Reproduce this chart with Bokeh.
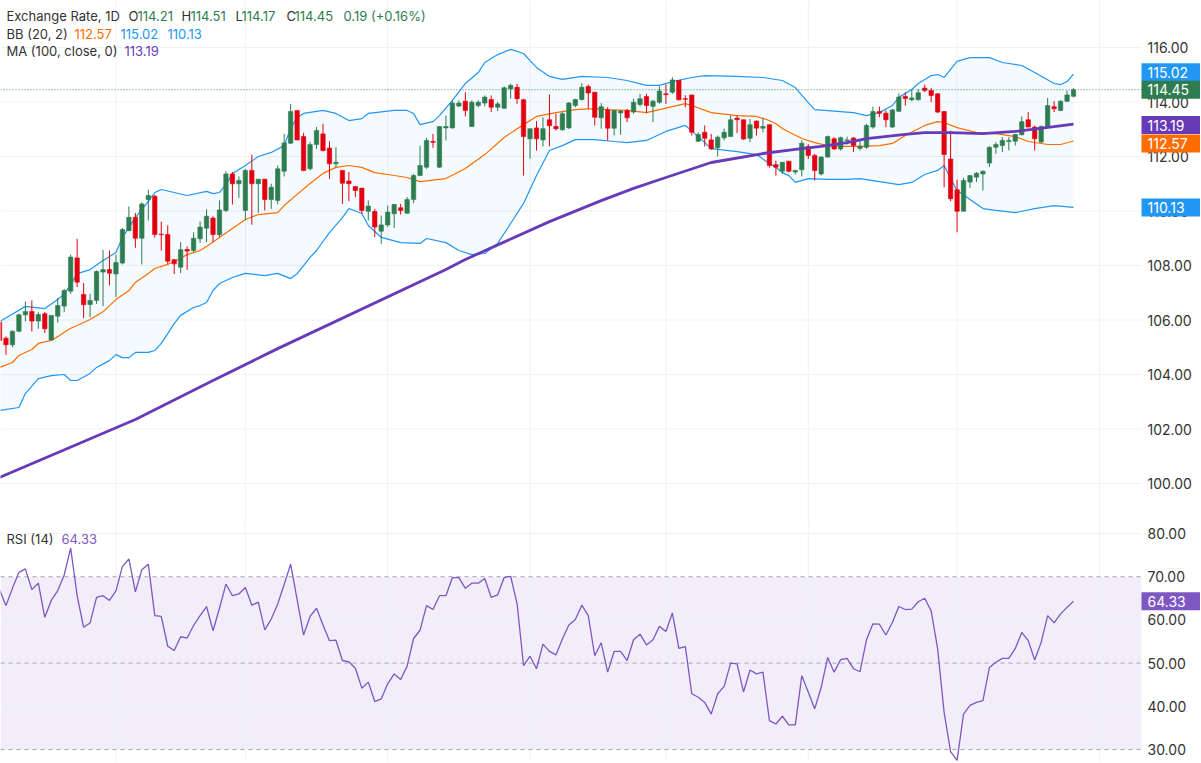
from bokeh.plotting import figure
from bokeh.layouts import column
from bokeh.models import Range1d, BoxAnnotation, Label, ColumnDataSource
from bokeh.core.properties import value
from bokeh.embed import file_html
from bokeh.resources import INLINE

# ---------------- data ----------------
open_ = [105.92, 105.33, 105.09, 105.59, 106.19, 106.31, 105.96, 106.23, 105.27, 106.14,
         106.51, 107.06, 108.28, 106.94, 106.57, 106.72, 107.76, 107.85, 107.69, 108.09,
         109.28, 109.77, 109.00, 110.42, 110.54, 109.15, 109.14, 108.21, 107.94, 108.59,
         108.55, 108.98, 109.37, 109.74, 109.13, 110.02, 111.36, 111.00, 110.02, 111.49,
         111.00, 111.17, 110.42, 110.39, 111.46, 112.49, 113.69, 112.73, 111.55, 112.44,
         112.83, 112.31, 111.73, 111.49, 111.10, 110.90, 110.84, 109.99, 109.98, 109.26,
         109.49, 109.90, 110.12, 109.92, 110.42, 111.30, 111.61, 112.55, 111.61, 113.05,
         113.05, 113.85, 114.03, 113.10, 113.87, 113.96, 114.09, 113.81, 113.77, 114.48,
         114.54, 114.08, 112.65, 113.05, 112.61, 113.35, 113.10, 112.98, 113.05, 113.87,
         114.09, 114.57, 114.36, 113.42, 113.71, 113.04, 113.60, 113.69, 113.63, 113.91,
         114.20, 113.84, 113.99, 114.30, 114.36, 114.79, 114.12, 114.26, 112.56, 112.89,
         112.61, 112.32, 112.69, 112.73, 113.41, 113.35, 112.67, 113.30, 113.04, 113.17,
         111.70, 111.46, 111.83, 111.43, 111.51, 112.37, 112.04, 111.36, 111.98, 112.65,
         112.28, 112.59, 112.68, 112.30, 112.34, 113.08, 113.65, 113.59, 113.08, 113.66,
         114.20, 114.08, 114.08, 114.51, 114.42, 114.30, 113.65, 111.91, 110.78, 109.99,
         111.06, 111.24, 111.36, 111.76, 112.34, 112.40, 112.55, 112.56, 112.80, 113.35,
         113.08, 112.53, 113.08, 113.83, 113.69, 114.03, 114.21]
high = [106.00, 105.40, 105.61, 106.23, 106.68, 106.72, 106.29, 106.29, 106.17, 106.81,
        107.14, 108.40, 108.98, 107.36, 106.96, 107.82, 108.57, 108.55, 108.39, 109.37,
        110.17, 109.93, 110.32, 110.78, 110.59, 109.61, 109.47, 108.25, 108.86, 108.70,
        109.22, 109.62, 110.06, 109.81, 110.39, 111.46, 111.43, 111.27, 111.55, 112.07,
        111.17, 111.17, 111.00, 111.67, 112.83, 113.93, 113.69, 112.87, 112.53, 113.08,
        113.20, 112.56, 112.34, 111.49, 111.43, 110.90, 110.84, 110.39, 110.08, 109.83,
        110.20, 110.26, 110.26, 110.51, 111.36, 112.40, 112.68, 112.83, 113.10, 113.50,
        114.06, 114.05, 114.36, 114.06, 114.06, 114.24, 114.24, 114.00, 114.57, 114.67,
        114.67, 114.12, 113.02, 113.30, 113.44, 114.27, 113.57, 113.63, 114.00, 114.12,
        114.69, 114.64, 114.36, 113.96, 113.81, 113.69, 113.70, 113.75, 114.12, 114.30,
        114.30, 114.08, 114.57, 114.64, 114.91, 114.79, 114.25, 114.26, 112.89, 113.14,
        112.83, 112.77, 113.02, 113.51, 113.51, 113.35, 113.38, 113.32, 113.42, 113.17,
        111.85, 111.79, 111.83, 111.51, 112.59, 112.46, 112.10, 112.00, 112.77, 112.71,
        112.73, 112.73, 112.71, 112.61, 113.20, 113.83, 113.83, 113.69, 113.75, 114.32,
        114.36, 114.45, 114.48, 114.64, 114.52, 114.32, 113.65, 112.95, 111.15, 111.22,
        111.30, 111.43, 111.49, 112.37, 112.53, 112.71, 112.71, 112.83, 113.47, 113.63,
        113.14, 113.14, 114.15, 114.03, 114.06, 114.42, 114.51]
low = [105.10, 104.72, 105.00, 105.55, 105.95, 105.58, 105.68, 105.52, 105.25, 105.90,
       106.29, 106.96, 107.21, 106.07, 106.10, 106.59, 106.51, 107.27, 106.84, 108.04,
       109.26, 108.65, 108.04, 109.65, 109.02, 108.55, 108.06, 107.69, 107.72, 107.84,
       108.49, 108.83, 108.86, 108.86, 109.04, 109.96, 110.24, 110.48, 109.68, 109.50,
       109.93, 110.02, 110.08, 110.24, 111.27, 112.46, 112.59, 111.46, 111.49, 112.28,
       112.18, 111.18, 111.61, 110.26, 110.36, 110.51, 109.90, 109.65, 109.04, 108.80,
       109.41, 109.38, 109.87, 109.90, 110.29, 111.30, 111.55, 112.32, 111.58, 112.59,
       113.02, 113.81, 113.47, 113.08, 113.81, 113.84, 113.63, 113.66, 113.75, 114.12,
       113.93, 111.30, 111.92, 112.22, 112.37, 112.37, 112.95, 112.95, 113.01, 113.81,
       114.05, 113.75, 113.14, 113.02, 112.59, 112.77, 112.80, 113.26, 113.57, 113.84,
       113.59, 113.26, 113.93, 113.93, 114.30, 114.06, 113.81, 112.77, 112.53, 112.37,
       112.24, 112.00, 112.59, 112.73, 112.86, 112.61, 112.53, 112.77, 112.89, 111.59,
       111.30, 111.36, 111.42, 111.34, 111.27, 111.91, 111.12, 111.30, 111.95, 112.24,
       112.22, 112.44, 112.16, 112.22, 112.28, 113.02, 113.44, 113.08, 113.05, 113.63,
       113.87, 114.03, 114.06, 114.36, 114.00, 113.59, 110.87, 110.36, 109.22, 109.99,
       110.85, 111.06, 110.75, 111.61, 112.10, 112.16, 112.22, 112.40, 112.77, 113.08,
       112.22, 112.49, 113.05, 113.63, 113.66, 113.99, 114.17]
close = [105.25, 105.09, 105.59, 106.19, 106.31, 105.96, 106.20, 105.68, 106.17, 106.53,
         107.08, 108.31, 107.39, 106.56, 106.72, 107.78, 107.85, 107.72, 108.11, 109.32,
         109.77, 109.00, 110.26, 110.57, 109.14, 109.13, 108.16, 108.06, 108.58, 108.53,
         109.00, 109.41, 109.81, 109.14, 110.04, 111.36, 111.00, 111.12, 111.49, 111.00,
         111.17, 110.42, 110.87, 111.55, 112.50, 113.65, 112.61, 111.49, 112.44, 112.95,
         112.22, 111.73, 111.79, 111.02, 111.00, 110.75, 110.02, 110.18, 109.41, 109.49,
         109.96, 110.24, 110.02, 110.42, 111.30, 111.67, 112.59, 112.52, 113.10, 113.10,
         113.96, 113.96, 113.69, 113.99, 113.99, 114.18, 113.81, 113.93, 114.52, 114.61,
         114.12, 112.73, 113.02, 112.65, 113.02, 113.13, 113.02, 113.57, 113.96, 114.09,
         114.54, 114.33, 113.44, 113.83, 113.04, 113.69, 113.67, 113.42, 113.99, 114.12,
         113.87, 114.03, 114.40, 114.27, 114.81, 114.08, 114.10, 112.89, 112.81, 112.67,
         112.28, 112.71, 112.89, 113.35, 113.35, 112.64, 113.17, 113.04, 113.10, 111.67,
         111.61, 111.79, 111.46, 111.49, 112.49, 112.04, 111.49, 111.98, 112.73, 112.28,
         112.69, 112.61, 112.40, 112.38, 113.14, 113.65, 113.59, 113.35, 113.71, 114.18,
         114.13, 114.15, 114.34, 114.42, 114.24, 113.63, 112.07, 110.45, 109.99, 111.12,
         111.30, 111.39, 111.46, 112.34, 112.44, 112.59, 112.59, 112.81, 113.28, 113.08,
         112.65, 113.10, 113.87, 113.75, 114.03, 114.26, 114.45]
candle_index = list(range(len(close)))

rsi = [67.0, 63.3, 67.3, 71.0, 71.8, 67.0, 68.5, 60.6, 64.5, 66.8,
       70.4, 76.6, 65.6, 58.3, 59.3, 65.2, 65.6, 64.5, 66.7, 72.4,
       74.1, 66.5, 71.6, 72.9, 61.0, 60.8, 53.9, 52.9, 56.1, 55.8,
       58.7, 61.0, 63.1, 57.5, 62.7, 68.3, 65.6, 66.0, 67.5, 63.4,
       64.1, 57.7, 60.2, 63.7, 68.2, 72.9, 64.7, 56.5, 60.8, 62.7,
       58.8, 55.2, 55.3, 50.6, 50.3, 48.8, 44.2, 45.6, 41.1, 41.7,
       45.2, 47.5, 46.2, 49.3, 55.7, 57.6, 63.3, 62.4, 65.6, 65.6,
       69.8, 69.8, 67.3, 68.5, 68.5, 69.6, 65.2, 65.8, 69.8, 70.1,
       63.7, 49.4, 51.6, 48.7, 54.4, 52.7, 51.9, 55.6, 58.8, 60.1,
       63.4, 61.0, 51.7, 54.7, 47.9, 52.7, 52.7, 50.6, 55.4, 56.7,
       54.2, 55.4, 58.5, 57.3, 61.6, 53.4, 53.8, 42.9, 42.1, 40.9,
       38.2, 42.9, 44.6, 50.0, 49.8, 43.3, 48.4, 47.5, 47.9, 36.7,
       35.9, 37.7, 35.7, 35.7, 47.1, 43.3, 39.4, 44.4, 51.3, 47.9,
       50.8, 51.1, 48.7, 48.0, 55.4, 59.1, 59.0, 56.5, 59.4, 63.1,
       62.4, 62.5, 64.2, 65.0, 62.1, 53.3, 38.6, 29.5, 27.5, 38.2,
       40.2, 40.9, 41.3, 49.0, 50.2, 51.1, 51.1, 53.4, 57.1, 55.2,
       50.7, 54.8, 61.0, 59.3, 61.4, 62.9, 64.33]

bb_upper_idx = [0, 4, 7, 9, 10, 11, 12, 14, 16, 18, 19, 21, 23, 24, 25, 27, 29, 32, 33, 34,
                35, 36, 38, 40, 42, 44, 45, 46, 47, 50, 52, 54, 56, 57, 61, 63, 64, 65, 67, 68,
                70, 72, 74, 75, 77, 79, 81, 82, 83, 85, 87, 90, 94, 97, 100, 102, 104, 107, 109, 114,
                118, 121, 123, 125, 126, 130, 132, 134, 136, 138, 139, 141, 142, 144, 145, 146, 148, 150, 153, 155,
                158, 160, 163, 164, 165, 166]
bb_upper = [105.94, 106.50, 106.42, 106.75, 106.95, 107.30, 107.70, 107.85, 108.18, 108.48, 109.03, 109.76, 110.35, 110.68, 110.79, 110.68, 110.57, 110.72, 110.64, 110.68,
            110.97, 111.38, 111.67, 112.00, 112.15, 112.40, 113.03, 113.43, 113.58, 113.69, 113.58, 113.32, 113.39, 113.58, 113.69, 113.69, 113.58, 113.17, 113.28, 113.50,
            114.06, 114.68, 115.08, 115.45, 115.74, 115.93, 115.78, 115.52, 115.27, 114.94, 114.83, 114.94, 114.90, 114.79, 114.61, 114.61, 114.75, 114.90, 114.97, 114.94,
            114.90, 114.79, 114.53, 113.98, 113.72, 113.65, 113.61, 113.50, 113.61, 113.87, 114.17, 114.46, 114.68, 114.97, 115.01, 114.90, 115.49, 115.63, 115.63, 115.45,
            115.34, 115.08, 114.68, 114.64, 114.75, 115.02]

bb_basis_idx = [0, 2, 3, 5, 6, 8, 9, 10, 11, 12, 14, 16, 17, 18, 20, 21, 23, 24, 26, 27,
                29, 31, 32, 34, 36, 38, 40, 43, 44, 46, 48, 50, 52, 54, 56, 58, 60, 63, 65, 69,
                72, 75, 78, 81, 83, 86, 89, 92, 94, 97, 100, 102, 104, 106, 107, 110, 114, 117, 119, 120,
                121, 122, 124, 126, 128, 130, 133, 136, 138, 140, 143, 145, 146, 148, 151, 154, 157, 159, 162, 164,
                166]
bb_basis = [104.26, 104.44, 104.70, 104.92, 105.14, 105.25, 105.39, 105.55, 105.70, 105.80, 106.02, 106.30, 106.53, 106.75, 107.08, 107.38, 107.71, 107.89, 108.04, 108.15,
            108.40, 108.55, 108.70, 109.03, 109.36, 109.69, 109.87, 109.94, 110.20, 110.61, 111.01, 111.38, 111.60, 111.67, 111.60, 111.41, 111.34, 111.23, 111.08, 111.19,
            111.56, 112.07, 112.70, 113.17, 113.47, 113.61, 113.72, 113.76, 113.72, 113.69, 113.61, 113.72, 113.83, 113.94, 113.87, 113.61, 113.50, 113.47, 113.32, 113.20,
            113.03, 112.90, 112.66, 112.51, 112.40, 112.37, 112.37, 112.40, 112.48, 112.77, 113.14, 113.28, 113.25, 113.06, 112.88, 112.84, 112.73, 112.55, 112.44, 112.44,
            112.57]

bb_lower_idx = [0, 3, 4, 6, 8, 10, 11, 12, 14, 15, 17, 18, 19, 20, 21, 23, 24, 25, 26, 27,
                28, 30, 31, 32, 33, 34, 36, 38, 41, 43, 45, 46, 47, 48, 49, 51, 53, 54, 56, 57,
                59, 62, 65, 66, 69, 71, 73, 75, 77, 79, 81, 83, 85, 87, 89, 92, 95, 97, 100, 103,
                106, 108, 110, 114, 117, 119, 120, 121, 122, 123, 125, 128, 131, 133, 136, 139, 141, 143, 145, 146,
                147, 148, 150, 152, 154, 157, 160, 163, 166]
bb_lower = [102.68, 102.79, 103.30, 103.85, 103.96, 104.00, 103.78, 103.78, 104.04, 104.26, 104.51, 104.73, 104.62, 104.62, 104.81, 104.81, 104.88, 105.14, 105.50, 105.87,
            106.17, 106.46, 106.53, 106.64, 107.08, 107.34, 107.56, 107.71, 107.63, 107.71, 107.52, 107.70, 108.00, 108.30, 108.55, 109.21, 109.76, 110.09, 109.91, 109.47,
            109.03, 108.84, 108.81, 108.99, 108.84, 108.55, 108.40, 108.44, 108.81, 109.54, 110.28, 111.30, 112.22, 112.40, 112.62, 112.62, 112.55, 112.51, 112.59, 112.92,
            113.14, 112.73, 112.29, 112.18, 112.07, 111.74, 111.60, 111.41, 111.30, 111.05, 111.19, 111.16, 111.16, 111.19, 111.08, 110.97, 111.05, 111.34, 111.49, 111.67,
            111.19, 110.75, 110.42, 110.09, 110.02, 109.94, 110.09, 110.20, 110.13]

ma_idx = [0, 21, 33, 43, 69, 72, 85, 93, 98, 103, 110, 118, 123, 127, 131, 134, 140, 143, 147, 152, 157, 163, 166]
ma_100 = [100.22, 102.35, 103.78, 104.95, 107.85, 108.22, 109.61, 110.38, 110.83, 111.23, 111.78, 112.11, 112.26, 112.37, 112.51, 112.66, 112.81, 112.88, 112.88, 112.84, 112.92, 113.10, 113.19]

month_idx = [18, 38, 60, 82, 103, 125, 148, 170]
price_ticks = [100, 102, 104, 106, 108, 110, 112, 114, 116]
rsi_ticks = [30, 40, 50, 60, 70, 80]
rsi_grid = [40, 60, 80]
rsi_levels = [30, 50, 70]
header_ohlc = ["114.21", "114.51", "114.17", "114.45"]
header_change = "0.19 (+0.16%)"

# ---------------- style / layout ----------------
FONT = "Inter"
GREEN = "#2E7D50"
RED = "#E3000F"
BLUE = "#2196F3"
ORANGE = "#FF6D00"
PURPLE = "#673AB7"
RSI_PURPLE = "#7E57C2"
TEXT = "#333333"
GRID = "#EEF1F6"
SCALE_FONT_SIZE = "14px"

W = 1200
H_MAIN = 521
H_RSI = 241
PX_PER_BAR = 6.47
X0 = 1 / PX_PER_BAR                 # left frame edge, in bar units
X_END = (W + 1) / PX_PER_BAR        # right frame edge (includes price scale)
X_EDGE = 1142 / PX_PER_BAR          # where the chart area meets the price scale
X_LABEL = 1148 / PX_PER_BAR         # left edge of price-scale text
BOX_W = X_END - X_EDGE + 1
BOX_H = 18

x_range = Range1d(X0, X_END)


def base_fig(height, y0, y1):
    f = figure(width=W, height=height, x_range=x_range, y_range=Range1d(y0, y1),
               x_axis_location=None, y_axis_location=None,
               toolbar_location=None, output_backend="svg",
               min_border_left=0, min_border_right=0,
               min_border_top=0, min_border_bottom=0)
    f.outline_line_color = None
    f.background_fill_color = "white"
    f.border_fill_color = "white"
    f.grid.visible = False
    # month grid lines
    f.segment(x0=month_idx, y0=[y0] * len(month_idx), x1=month_idx,
              y1=[y1] * len(month_idx), line_color=GRID, line_width=1)
    return f


def price_scale(f, ticks, grid_ticks):
    f.segment(x0=[X0] * len(grid_ticks), y0=grid_ticks, x1=[X_EDGE] * len(grid_ticks),
              y1=grid_ticks, line_color=GRID, line_width=1)
    f.text(x=[X_LABEL] * len(ticks), y=ticks, text=[f"{t:.2f}" for t in ticks],
           text_font=value(FONT), text_font_size=value(SCALE_FONT_SIZE), text_color=TEXT,
           text_align="left", text_baseline="middle")


def value_box(f, val, color, px_per_unit, off_px=0):
    y = val + off_px / px_per_unit
    f.rect(x=[X_EDGE + BOX_W / 2], y=[y], width=BOX_W, height=BOX_H,
           height_units="screen", fill_color=color, line_color=None)
    f.text(x=[X_LABEL], y=[y], text=[f"{val:.2f}"], text_font=value(FONT),
           text_font_size=value(SCALE_FONT_SIZE), text_color="white",
           text_align="left", text_baseline="middle")


def legend_text(f, x, y, text, color):
    f.add_layout(Label(x=x, y=y, x_units="screen", y_units="screen", text=text,
                       text_color=color, text_font=FONT, text_font_size="13px",
                       text_align="left", text_baseline="middle"))


# ---------------- main pane ----------------
M_TOP = 117.725
M_BOT = 98.606
M_PPU = H_MAIN / (M_TOP - M_BOT)
p = base_fig(H_MAIN, M_BOT, M_TOP)
price_scale(p, price_ticks, price_ticks)

band_x = bb_upper_idx + bb_lower_idx[::-1]
band_y = bb_upper + bb_lower[::-1]
p.patch(band_x, band_y, fill_color=BLUE, fill_alpha=0.05, line_color=None)
p.line(bb_upper_idx, bb_upper, line_color=BLUE, line_width=1.2)
p.line(bb_lower_idx, bb_lower, line_color=BLUE, line_width=1.2)
p.line(bb_basis_idx, bb_basis, line_color=ORANGE, line_width=1.2)

colors = [GREEN if c >= o else RED for o, c in zip(open_, close)]
src = ColumnDataSource(dict(
    x=candle_index, h=high, l=low,
    top=[max(o, c) for o, c in zip(open_, close)],
    bottom=[min(o, c) for o, c in zip(open_, close)],
    color=colors))
p.segment(x0="x", y0="l", x1="x", y1="h", line_color="color", line_width=1, source=src)
p.vbar(x="x", width=0.68, top="top", bottom="bottom", fill_color="color",
       line_color="color", line_width=0.6, source=src)

p.line(ma_idx, ma_100, line_color=PURPLE, line_width=2.8)

# last-price dotted line
p.segment(x0=[X0], y0=[close[-1]], x1=[X_EDGE], y1=[close[-1]], line_color=GREEN,
          line_dash="1 2", line_width=1, line_alpha=0.9)

value_box(p, bb_upper[-1], BLUE, M_PPU, 2)
value_box(p, close[-1], GREEN, M_PPU)
value_box(p, ma_100[-1], PURPLE, M_PPU, -1)
value_box(p, bb_basis[-1], ORANGE, M_PPU, -2.5)
value_box(p, bb_lower[-1], BLUE, M_PPU)

y1, y2, y3 = H_MAIN - 15, H_MAIN - 33, H_MAIN - 50.5
legend_text(p, 6, y1, "Exchange Rate, 1D", TEXT)
for xl, xv, letter, val in zip([128, 181, 235, 286], [137, 190, 241, 294],
                                ["O", "H", "L", "C"], header_ohlc):
    legend_text(p, xl, y1, letter, TEXT)
    legend_text(p, xv, y1, val, GREEN)
legend_text(p, 343, y1, header_change, GREEN)
legend_text(p, 6, y2, "BB (20, 2)", TEXT)
legend_text(p, 74, y2, f"{bb_basis[-1]:.2f}", ORANGE)
legend_text(p, 120, y2, f"{bb_upper[-1]:.2f}", BLUE)
legend_text(p, 167, y2, f"{bb_lower[-1]:.2f}", BLUE)
legend_text(p, 6, y3, "MA (100, close, 0)", TEXT)
legend_text(p, 124, y3, f"{ma_100[-1]:.2f}", PURPLE)

# ---------------- RSI pane ----------------
R_TOP = 82.778
R_BOT = R_TOP - H_RSI / 4.32
R_PPU = 4.32
r = base_fig(H_RSI, R_BOT, R_TOP)
r.add_layout(BoxAnnotation(bottom=30, top=70, right=X_EDGE, fill_color=RSI_PURPLE,
                           fill_alpha=0.1, line_color=None, level="underlay"))
price_scale(r, rsi_ticks, rsi_grid)
r.segment(x0=[X0] * 3, y0=rsi_levels, x1=[X_EDGE] * 3, y1=rsi_levels,
          line_color="#8A8799", line_dash="4 4", line_width=1, line_alpha=0.75)
r.line(candle_index, rsi, line_color=RSI_PURPLE, line_width=1.3)
value_box(r, rsi[-1], RSI_PURPLE, R_PPU)
legend_text(r, 6, H_RSI - 17, "RSI (14)", TEXT)
legend_text(r, 61, H_RSI - 17, f"{rsi[-1]:.2f}", RSI_PURPLE)

layout = column(p, r, spacing=0)
open("out.html", "w").write(file_html(layout, INLINE))
